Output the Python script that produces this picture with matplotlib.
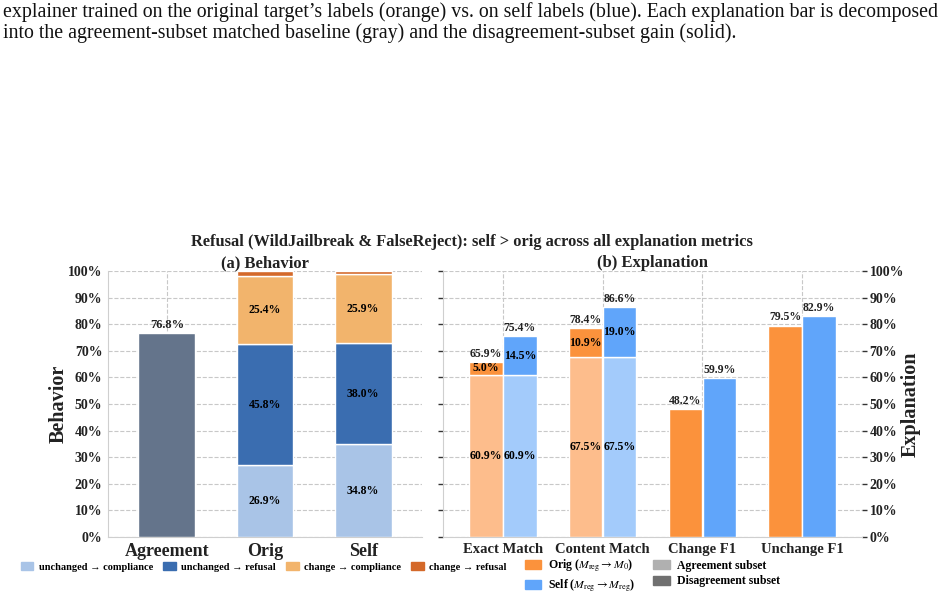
import numpy as np
import matplotlib
matplotlib.use('Agg')
import matplotlib.pyplot as plt
from matplotlib.patches import Patch

plt.rcParams['font.family'] = ['Liberation Serif', 'DejaVu Serif']
plt.rcParams['mathtext.fontset'] = 'stix'

# ── Données ───────────────────────────────────────────────────────────────────
beh_cats = ['Agreement', 'Orig', 'Self']
agreement_val = 76.8
unch_comp = [26.9, 34.8]
unch_ref = [45.8, 38.0]
chg_comp = [25.4, 25.9]
chg_ref = [1.9, 1.3]

exp_cats = ['Exact Match', 'Content Match', 'Change F1', 'Unchange F1']
orig_total = [65.9, 78.4, 48.2, 79.5]
self_total = [75.4, 86.6, 59.9, 82.9]
orig_base = [60.9, 67.5, None, None]
self_base = [60.9, 67.5, None, None]
orig_gain = [5.0, 10.9, None, None]
self_gain = [14.5, 19.0, None, None]

caption = ["explainer trained on the original target\u2019s labels (orange) vs. on self labels (blue). "
           "Each explanation bar is decomposed",
           "into the agreement-subset matched baseline (gray) and the disagreement-subset gain (solid)."]

# ── Couleurs ──────────────────────────────────────────────────────────────────
C_AGR = '#64748b'
C_UC = '#a9c4e7'
C_UR = '#3a6db0'
C_CC = '#f2b46c'
C_CR = '#d4692a'
C_OR = '#fb923c'
C_SE = '#60a5fa'
C_OR_L = '#fdbd8c'
C_SE_L = '#a3cbfb'
GRID = '#c8c8c8'
TXT = '#222222'

fig = plt.figure(figsize=(9.48, 5.98), dpi=100)
ax1 = fig.add_axes([0.1139, 0.1020, 0.3312, 0.4448])
ax2 = fig.add_axes([0.4673, 0.1020, 0.4420, 0.4448])

# ── Caption ───────────────────────────────────────────────────────────────────
for i, (line, yy) in enumerate(zip(caption, [12, 33])):
    fig.text(0.003, 1 - yy / 598, line, fontsize=14.35, color='#111111', va='center', ha='left')

# ── (a) Behavior ──────────────────────────────────────────────────────────────
w = 0.58
x = np.arange(len(beh_cats))
ax1.bar(x[0], agreement_val, w, color=C_AGR, edgecolor='white', linewidth=1, zorder=3)
ax1.text(x[0], agreement_val + 0.8, f'{agreement_val:.1f}%', ha='center', va='bottom',
         fontsize=9, fontweight='bold', color=TXT)
xs = x[1:]
bottom = np.zeros(2)
for vals, col, lab in [(unch_comp, C_UC, True), (unch_ref, C_UR, True),
                       (chg_comp, C_CC, True), (chg_ref, C_CR, False)]:
    vals = np.array(vals)
    ax1.bar(xs, vals, w, bottom=bottom, color=col, edgecolor='white', linewidth=1, zorder=3)
    if lab:
        for xi, b, v in zip(xs, bottom, vals):
            ax1.text(xi, b + v / 2, f'{v:.1f}%', ha='center', va='center',
                     fontsize=8.5, fontweight='bold', color='black', zorder=4)
    bottom += vals

ax1.set_xlim(-0.6, 2.6)
ax1.set_ylim(0, 100)
ax1.set_xticks(x)
ax1.set_xticklabels(beh_cats, fontsize=13, fontweight='bold', color=TXT)
ax1.set_yticks(np.arange(0, 101, 10))
ax1.set_yticklabels([f'{v}%' for v in range(0, 101, 10)], fontsize=10, fontweight='bold', color=TXT)
ax1.tick_params(axis='both', length=0, pad=4)
ax1.grid(True, linestyle='--', color=GRID, linewidth=0.8, zorder=0)
ax1.set_axisbelow(True)
for s in ['top', 'right']:
    ax1.spines[s].set_visible(False)
for s in ['left', 'bottom']:
    ax1.spines[s].set_color('#cfcfcf')
ax1.set_ylabel('Behavior', fontsize=14.5, fontweight='bold', color=TXT)
ax1.yaxis.set_label_coords(-0.124, 0.5)
ax1.set_title('(a) Behavior', fontsize=12, fontweight='bold', color=TXT, pad=2)

ax1.legend(handles=[Patch(color=C_UC, label='unchanged \u2192 compliance'),
                    Patch(color=C_UR, label='unchanged \u2192 refusal'),
                    Patch(color=C_CC, label='change \u2192 compliance'),
                    Patch(color=C_CR, label='change \u2192 refusal')],
           loc='center', bbox_to_anchor=(0.278, 1 - 567 / 598), bbox_transform=fig.transFigure,
           ncol=4, frameon=False, prop={'size': 7.5, 'weight': 'bold'},
           handlelength=1.2, handleheight=0.8, columnspacing=1.0, handletextpad=0.5)

# ── (b) Explanation ───────────────────────────────────────────────────────────
bw = 0.335
off = 0.17
xe = np.arange(len(exp_cats))
for i in range(len(exp_cats)):
    for xi, tot, base, gain, c, cl in [
            (xe[i] - off, orig_total[i], orig_base[i], orig_gain[i], C_OR, C_OR_L),
            (xe[i] + off, self_total[i], self_base[i], self_gain[i], C_SE, C_SE_L)]:
        if base is None:
            ax2.bar(xi, tot, bw, color=c, edgecolor='white', linewidth=1, zorder=3)
        else:
            ax2.bar(xi, base, bw, color=cl, edgecolor='white', linewidth=1, zorder=3)
            ax2.bar(xi, tot - base, bw, bottom=base, color=c, edgecolor='white', linewidth=1, zorder=3)
            ax2.text(xi, base / 2, f'{base:.1f}%', ha='center', va='center',
                     fontsize=8.5, fontweight='bold', color='black', zorder=4)
            ax2.text(xi, (base + tot) / 2, f'{gain:.1f}%', ha='center', va='center',
                     fontsize=8.5, fontweight='bold', color='black', zorder=4)
        ax2.text(xi, tot + 0.8, f'{tot:.1f}%', ha='center', va='bottom',
                 fontsize=8.5, fontweight='bold', color=TXT, zorder=4)

ax2.set_xlim(-0.6, 3.6)
ax2.set_ylim(0, 100)
ax2.set_xticks(xe)
ax2.set_xticklabels(exp_cats, fontsize=10.5, fontweight='bold', color=TXT)
ax2.set_yticks(np.arange(0, 101, 10))
ax2.yaxis.tick_right()
ax2.set_yticklabels([f'{v}%' for v in range(0, 101, 10)], fontsize=10, fontweight='bold', color=TXT)
ax2.tick_params(axis='y', left=True, right=True, labelleft=False, labelright=True,
                length=3.5, width=1, color='#333333', pad=2)
ax2.tick_params(axis='x', length=0, pad=4)
ax2.grid(True, linestyle='--', color=GRID, linewidth=0.8, zorder=0)
ax2.set_axisbelow(True)
for s in ['top', 'right']:
    ax2.spines[s].set_visible(False)
for s in ['left', 'bottom']:
    ax2.spines[s].set_color('#cfcfcf')
ax2.yaxis.set_label_position('right')
ax2.set_ylabel('Explanation', fontsize=14.5, fontweight='bold', color=TXT)
ax2.yaxis.set_label_coords(1.092, 0.5)
ax2.set_title('(b) Explanation', fontsize=12, fontweight='bold', color=TXT, pad=2)

ax2.legend(handles=[Patch(color=C_OR, label=r'Orig ($M_{\mathrm{reg}} \rightarrow M_0$)'),
                    Patch(color=C_SE, label=r'Self ($M_{\mathrm{reg}} \rightarrow M_{\mathrm{reg}}$)'),
                    Patch(color='#b0b0b0', label='Agreement subset'),
                    Patch(color='#707070', label='Disagreement subset')],
           loc='center', bbox_to_anchor=(0.688, 1 - 576 / 598), bbox_transform=fig.transFigure,
           ncol=2, frameon=False, prop={'size': 8.5, 'weight': 'bold'},
           handlelength=1.4, handleheight=0.8, columnspacing=1.5, handletextpad=0.6,
           labelspacing=0.3)

fig.text(0.498, 1 - 242 / 598, 'Refusal (WildJailbreak & FalseReject): self > orig across all explanation metrics',
         ha='center', va='center', fontsize=11.8, fontweight='bold', color=TXT)

fig.savefig('out.png', dpi=100, facecolor='white')
